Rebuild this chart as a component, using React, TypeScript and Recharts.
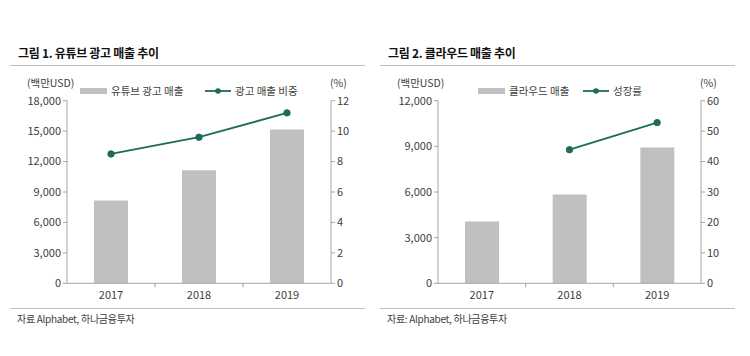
import React from "react";
import {
  ComposedChart,
  Bar,
  Line,
  XAxis,
  YAxis,
  Legend,
} from "recharts";

const years = ["2017", "2018", "2019"];

const youtubeAdRevenue = [8150, 11155, 15149];
const adShare = [8.5, 9.6, 11.2];

const cloudRevenue = [4056, 5838, 8918];
const cloudGrowth: (number | null)[] = [null, 43.9, 52.8];

const leftTicks1 = [0, 3000, 6000, 9000, 12000, 15000, 18000];
const rightTicks1 = [0, 2, 4, 6, 8, 10, 12];
const leftTicks2 = [0, 3000, 6000, 9000, 12000];
const rightTicks2 = [0, 10, 20, 30, 40, 50, 60];

const data1 = years.map((y, i) => ({ year: y, bar: youtubeAdRevenue[i], line: adShare[i] }));
const data2 = years.map((y, i) => ({ year: y, bar: cloudRevenue[i], line: cloudGrowth[i] }));

const FONT = '"Noto Sans CJK KR", "Noto Sans", sans-serif';
const TEAL = "#1d6b5c";
const BAR = "#c0c0c0";
const AXIS = "#a6a6a6";
const TEXT = "#404040";

const fmt = (v: number) => v.toLocaleString("en-US");

const XTick = (props: any) => {
  const { x, y, payload, index, width, visibleTicksCount } = props;
  const band = width / visibleTicksCount;
  return (
    <g>
      {index < visibleTicksCount - 1 && (
        <line x1={x + band / 2} x2={x + band / 2} y1={y - 8} y2={y - 4} stroke={AXIS} />
      )}
      <text x={x} y={y + 8} textAnchor="middle" fill={TEXT} fontSize={11} fontFamily={FONT}>
        {payload.value}
      </text>
    </g>
  );
};

const makeLegend = (barX: number, lineX: number) => (props: any) => {
  const items = props.payload || [];
  const barItem = items.find((p: any) => p.type === "rect");
  const lineItem = items.find((p: any) => p.type === "line");
  return (
    <div style={{ position: "relative", width: 375, height: 16, fontFamily: FONT, fontSize: 10.5, color: TEXT }}>
      <div style={{ position: "absolute", left: barX, top: 5, width: 27, height: 6, background: BAR }} />
      <div style={{ position: "absolute", left: barX + 31, top: 0, whiteSpace: "nowrap", lineHeight: "16px" }}>
        {barItem?.value}
      </div>
      <svg style={{ position: "absolute", left: lineX, top: 0 }} width={26} height={16}>
        <line x1={0} x2={26} y1={8} y2={8} stroke={TEAL} strokeWidth={1.8} />
        <circle cx={13} cy={8} r={2.8} fill={TEAL} />
      </svg>
      <div style={{ position: "absolute", left: lineX + 30, top: 0, whiteSpace: "nowrap", lineHeight: "16px" }}>
        {lineItem?.value}
      </div>
    </div>
  );
};

type PanelProps = {
  left: number;
  title: string;
  source: string;
  data: any[];
  barName: string;
  lineName: string;
  leftTicks: number[];
  rightTicks: number[];
  yLeftWidth: number;
  marginRight: number;
  legendBarX: number;
  legendLineX: number;
  titleX: number;
  unitX: number;
  pctX: number;
};

const Panel = (p: PanelProps) => (
  <div style={{ position: "absolute", left: p.left, top: 0, width: 375, height: 356, fontFamily: FONT }}>
    <div style={{ position: "absolute", left: p.titleX, top: 44, fontSize: 12, fontWeight: 700, color: "#111", whiteSpace: "nowrap", letterSpacing: -0.3 }}>
      {p.title}
    </div>
    <div style={{ position: "absolute", left: p.titleX - 8, top: 65, width: 355, height: 1, background: "#bfbfbf" }} />
    <div style={{ position: "absolute", left: p.unitX, top: 75, fontSize: 10.5, color: TEXT }}>(백만USD)</div>
    <div style={{ position: "absolute", left: p.pctX, top: 75, fontSize: 10.5, color: TEXT }}>(%)</div>
    <ComposedChart
      width={375}
      height={356}
      data={p.data}
      margin={{ top: 100.7, right: p.marginRight, left: 0, bottom: 52.7 }}
      style={{ position: "absolute", left: 0, top: 0 }}
    >
      <Legend
        layout="vertical"
        align="center"
        verticalAlign="middle"
        content={makeLegend(p.legendBarX, p.legendLineX)}
        wrapperStyle={{ position: "absolute", top: 83, left: 0, width: 375 }}
      />
      <XAxis
        dataKey="year"
        stroke={AXIS}
        tickLine={false}
        height={20}
        tick={<XTick />}
        interval={0}
      />
      <YAxis
        yAxisId="l"
        width={p.yLeftWidth}
        domain={[p.leftTicks[0], p.leftTicks[p.leftTicks.length - 1]]}
        ticks={p.leftTicks}
        tickFormatter={fmt}
        stroke={AXIS}
        tickSize={4}
        tick={{ fill: TEXT, fontSize: 11, fontFamily: FONT }}
        interval={0}
      />
      <YAxis
        yAxisId="r"
        orientation="right"
        width={34}
        domain={[p.rightTicks[0], p.rightTicks[p.rightTicks.length - 1]]}
        ticks={p.rightTicks}
        stroke={AXIS}
        tickSize={4}
        tick={{ fill: TEXT, fontSize: 11, fontFamily: FONT }}
        interval={0}
      />
      <Bar
        yAxisId="l"
        dataKey="bar"
        name={p.barName}
        fill={BAR}
        barSize={34}
        legendType="rect"
        isAnimationActive={false}
      />
      <Line
        yAxisId="r"
        dataKey="line"
        name={p.lineName}
        stroke={TEAL}
        strokeWidth={1.8}
        dot={{ r: 3.2, fill: TEAL, stroke: TEAL, strokeWidth: 1 }}
        legendType="line"
        isAnimationActive={false}
      />
    </ComposedChart>
    <div style={{ position: "absolute", left: p.titleX - 8, top: 308, width: 355, height: 1, background: "#bfbfbf" }} />
    <div style={{ position: "absolute", left: p.titleX - 1, top: 311, fontSize: 10, color: TEXT, whiteSpace: "nowrap", letterSpacing: -0.3 }}>
      {p.source}
    </div>
  </div>
);

export default function App() {
  return (
    <div style={{ position: "absolute", left: 0, top: 0, width: 750, height: 356, background: "#fff", overflow: "hidden" }}>
      <Panel
        left={0}
        title="그림 1. 유튜브 광고 매출 추이"
        source="자료 Alphabet, 하나금융투자"
        data={data1}
        barName="유튜브 광고 매출"
        lineName="광고 매출 비중"
        leftTicks={leftTicks1}
        rightTicks={rightTicks1}
        yLeftWidth={67}
        marginRight={10}
        legendBarX={80}
        legendLineX={205}
        titleX={18}
        unitX={27}
        pctX={330}
      />
      <Panel
        left={375}
        title="그림 2. 클라우드 매출 추이"
        source="자료: Alphabet, 하나금융투자"
        data={data2}
        barName="클라우드 매출"
        lineName="성장률"
        leftTicks={leftTicks2}
        rightTicks={rightTicks2}
        yLeftWidth={63}
        marginRight={15}
        legendBarX={103}
        legendLineX={208}
        titleX={13}
        unitX={22}
        pctX={325}
      />
    </div>
  );
}
